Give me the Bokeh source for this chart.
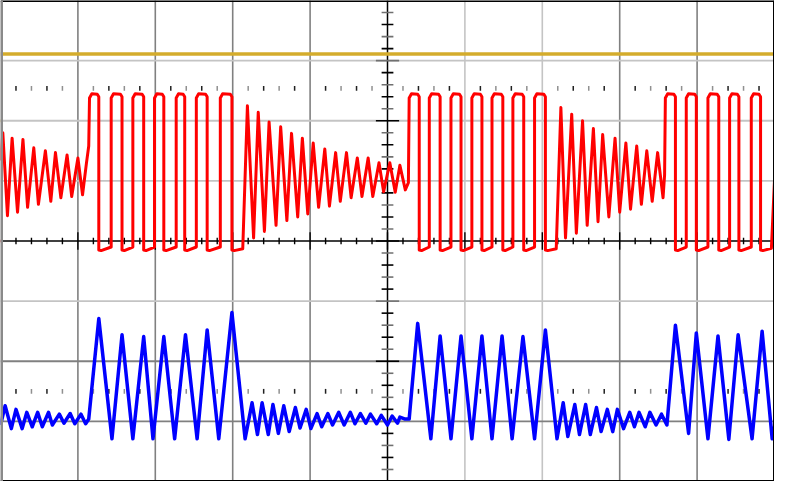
from bokeh.plotting import figure
from bokeh.models import Range1d
from bokeh.embed import file_html
from bokeh.resources import INLINE

# ---------------- data (screen divisions: time 0..10 div, level -4..4 div, centre = 0) ----------------
yellow_t = [0.0, 10.0]
yellow_v = [3.11, 3.11]

# red channel: ringing extrema + square-pulse edges
red_osc_t = [0.00, 0.03, 0.09, 0.15, 0.22, 0.29, 0.35, 0.43, 0.49, 0.58, 0.65, 0.71, 0.78, 0.86, 0.92, 1.00, 1.06, 1.11, 1.14,
             3.13, 3.19, 3.27, 3.33, 3.41, 3.47, 3.56, 3.62, 3.70, 3.76, 3.84, 3.90, 3.97, 4.04, 4.11, 4.19, 4.25, 4.33,
             4.39, 4.47, 4.53, 4.61, 4.67, 4.75, 4.81, 4.89, 4.95, 5.03, 5.10, 5.16, 5.23, 5.27,
             7.18, 7.24, 7.30, 7.38, 7.44, 7.52, 7.58, 7.66, 7.72, 7.78, 7.86, 7.94, 8.00, 8.08, 8.14, 8.22, 8.28, 8.35,
             8.42, 8.49, 8.56, 8.58,
             9.96, 10.00]
red_osc_v = [1.34, 1.80, 0.42, 1.71, 0.48, 1.69, 0.56, 1.55, 0.61, 1.50, 0.66, 1.47, 0.72, 1.43, 0.74, 1.38, 0.77, 1.29, 1.58,
             -0.13, 2.25, 0.05, 2.14, 0.16, 1.98, 0.26, 1.90, 0.34, 1.79, 0.40, 1.71, 0.45, 1.63, 0.56, 1.53, 0.58, 1.47,
             0.66, 1.47, 0.72, 1.38, 0.74, 1.38, 0.74, 1.30, 0.82, 1.30, 0.81, 1.26, 0.85, 0.97,
             -0.13, 2.22, 0.05, 2.11, 0.13, 2.00, 0.26, 1.87, 0.32, 1.77, 0.40, 1.71, 0.48, 1.63, 0.53, 1.58, 0.61, 1.50,
             0.66, 1.47, 0.72, 1.10,
             -0.12, 1.01]
red_rise_t = [1.15, 1.43, 1.71, 1.99, 2.27, 2.53, 2.84,
              5.28, 5.54, 5.82, 6.09, 6.35, 6.62, 6.90,
              8.59, 8.86, 9.14, 9.42, 9.70]
red_fall_t = [1.27, 1.57, 1.85, 2.11, 2.38, 2.67, 2.99,
              5.41, 5.68, 5.95, 6.22, 6.49, 6.76, 7.04,
              8.72, 8.99, 9.28, 9.54, 9.82]
red_high = 2.45
red_low = -0.15
red_low_end = -0.10

# blue channel extrema
blue_t = [0.00, 0.06, 0.14, 0.20, 0.28, 0.34, 0.41, 0.48, 0.54, 0.62, 0.67, 0.76, 0.82, 0.90, 0.96, 1.04, 1.10, 1.14,
          1.27, 1.44, 1.57, 1.71, 1.85, 1.97, 2.11, 2.25, 2.39, 2.54, 2.67, 2.82, 2.99, 3.16, 3.25,
          3.32, 3.38, 3.46, 3.52, 3.59, 3.66, 3.73, 3.81, 3.87, 3.95, 4.01, 4.09, 4.15, 4.23, 4.29, 4.37, 4.44, 4.52,
          4.58, 4.65, 4.72, 4.78, 4.86, 4.92, 5.00, 5.06, 5.13, 5.16, 5.22, 5.28,
          5.39, 5.56, 5.68, 5.82, 5.95, 6.09, 6.22, 6.35, 6.48, 6.61, 6.75, 6.90, 7.04, 7.19,
          7.27, 7.33, 7.42, 7.48, 7.56, 7.62, 7.70, 7.76, 7.84, 7.91, 7.97, 8.05, 8.13, 8.19, 8.25, 8.33, 8.39, 8.47,
          8.54, 8.61,
          8.72, 8.89, 8.99, 9.14, 9.27, 9.41, 9.53, 9.71, 9.84, 9.97, 10.00]
blue_v = [-3.06, -2.74, -3.12, -2.80, -3.12, -2.85, -3.09, -2.85, -3.09, -2.85, -3.06, -2.88, -3.03, -2.87, -3.04, -2.88,
          -3.04, -2.96,
          -1.29, -3.29, -1.56, -3.29, -1.59, -3.29, -1.59, -3.29, -1.56, -3.29, -1.48, -3.29, -1.19, -3.29, -2.69,
          -3.22, -2.69, -3.22, -2.72, -3.20, -2.74, -3.17, -2.77, -3.11, -2.80, -3.12, -2.87, -3.09, -2.87, -3.06, -2.85,
          -3.06, -2.85, -3.04, -2.87, -3.03, -2.88, -3.04, -2.90, -3.06, -2.91, -3.03, -2.93, -2.96, -2.96,
          -1.37, -3.29, -1.58, -3.29, -1.58, -3.29, -1.58, -3.29, -1.58, -3.29, -1.59, -3.29, -1.48, -3.29,
          -2.69, -3.25, -2.72, -3.22, -2.72, -3.22, -2.77, -3.17, -2.80, -3.17, -2.80, -3.12, -2.85, -3.09, -2.85, -3.09,
          -2.85, -3.06, -2.88, -3.06,
          -1.40, -3.20, -1.53, -3.29, -1.58, -3.30, -1.56, -3.29, -1.50, -3.29, -3.09]

# grid
v_grid = [1, 2, 3, 4, 6, 7, 8, 9]
v_grid_col = ["#808080", "#808080", "#808080", "#808080", "#c4c4c4", "#c4c4c4", "#808080", "#808080"]
h_grid = [3, 2, 1, -1, -2, -3]
h_grid_col = ["#c4c4c4", "#c4c4c4", "#c4c4c4", "#c4c4c4", "#808080", "#808080"]
marker_rows = [2.54, -2.50]

# ---------------- build red polyline ----------------
pts = list(zip(red_osc_t, red_osc_v))
for i, (r, f) in enumerate(zip(red_rise_t, red_fall_t)):
    if i > 0 and r - red_fall_t[i - 1] < 0.4:
        pts.append((r, red_low_end))
    pts += [(r, red_high - 0.07), (r + 0.03, red_high), (f - 0.02, red_high - 0.01),
            (f, red_high - 0.05), (f, red_low), (f + 0.03, red_low - 0.01)]
pts.sort(key=lambda q: q[0])
red_t = [q[0] for q in pts]
red_v = [q[1] for q in pts]

# ---------------- figure ----------------
W, H = 774, 481
p = figure(width=W, height=H, x_range=Range1d(0, 10), y_range=Range1d(-4, 4),
           output_backend="svg", toolbar_location=None, min_border=0,
           background_fill_color="white", border_fill_color="white")
p.axis.visible = False
p.grid.visible = False
p.outline_line_color = None

# grid lines
p.segment(x0=v_grid, y0=[-4] * len(v_grid), x1=v_grid, y1=[4] * len(v_grid),
          line_color=v_grid_col, line_width=1.6)
p.segment(x0=[0] * len(h_grid), y0=h_grid, x1=[10] * len(h_grid), y1=h_grid,
          line_color=h_grid_col, line_width=1.8)

# marker tick rows
mx, my0, my1, mc = [], [], [], []
for row in marker_rows:
    for k in range(1, 50):
        if k % 5 == 0:
            continue
        mx.append(k * 0.2)
        my0.append(row - 0.04)
        my1.append(row + 0.04)
        mc.append("#202020" if k % 2 else "#909090")
p.segment(x0=mx, y0=my0, x1=mx, y1=my1, line_color=mc, line_width=1.5)

# centre cross
p.segment(x0=[5, 0], y0=[-4, 0], x1=[5, 10], y1=[4, 0], line_color="black", line_width=1.5)
tx, ty0, ty1 = [], [], []
for k in range(1, 50):
    t = k * 0.2
    h = 0.145 if k % 5 == 0 else 0.055
    tx.append(t); ty0.append(-h); ty1.append(h)
p.segment(x0=tx, y0=ty0, x1=tx, y1=ty1, line_color="black", line_width=1.4)
vy, vx0, vx1, vc = [], [], [], []
for k in range(-19, 20):
    v = k * 0.2
    h = 0.15 if k % 5 == 0 else 0.076
    vy.append(v); vx0.append(5 - h); vx1.append(5 + h)
    vc.append("black" if k % 2 == 0 else "#707070")
p.segment(x0=vx0, y0=vy, x1=vx1, y1=vy, line_color=vc, line_width=1.6)

# traces
p.line(yellow_t, yellow_v, line_color="#d4ac2c", line_width=3.5)
p.line(red_t, red_v, line_color="#ff0000", line_width=3.0, line_join="round")
p.line(blue_t, blue_v, line_color="#0000ff", line_width=3.5, line_join="round")

# channel markers at left edge
p.segment(x0=[0, 0], y0=[2.0, 0.0], x1=[0.03, 0.03], y1=[2.0, 0.0],
          line_color=["#d4ac2c", "#ff0000"], line_width=3)

# frame
p.segment(x0=[0, 0, 10], y0=[4, -4, -4], x1=[10, 10, 10], y1=[4, -4, 4], line_color="black", line_width=3)
p.segment(x0=[0], y0=[-4], x1=[0], y1=[4], line_color="#8a8a8a", line_width=5)

open("out.html", "w").write(file_html(p, INLINE))
